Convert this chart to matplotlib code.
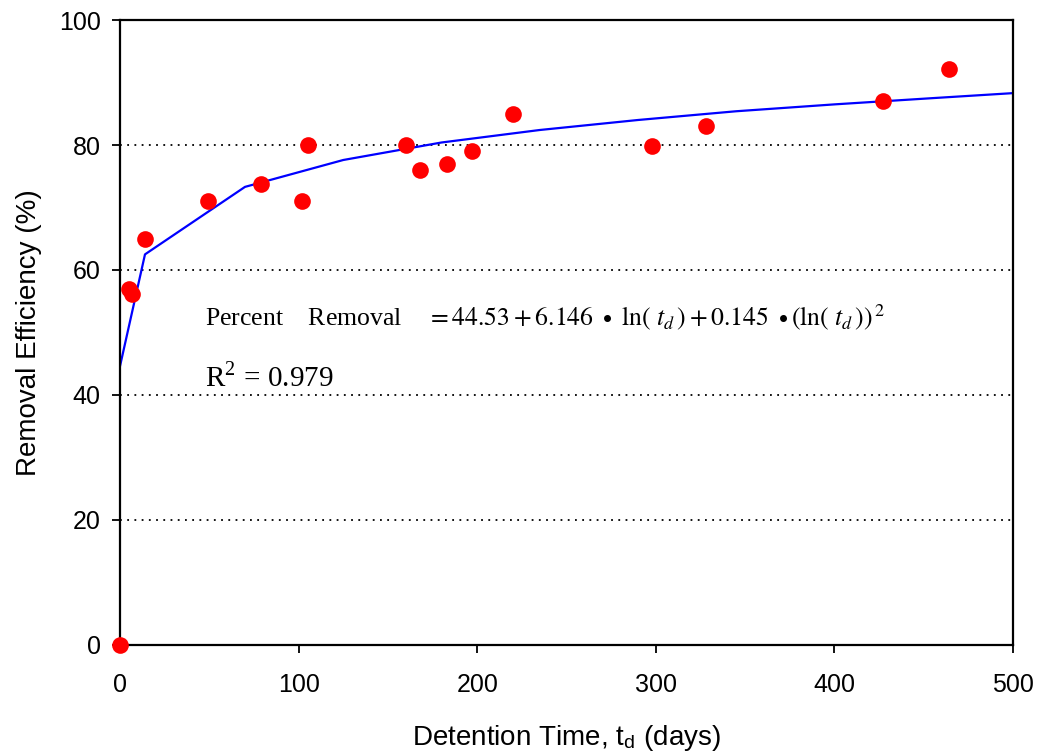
import matplotlib
matplotlib.use("Agg")
import matplotlib.pyplot as plt

plt.rcParams['font.family'] = ['Liberation Sans', 'DejaVu Sans']
plt.rcParams['mathtext.fontset'] = 'stix'

# measured data points (detention time in days, removal %)
days = [0, 5, 7, 14, 49, 79, 102, 105, 160, 168, 183, 197, 220, 298, 328, 427, 464]
removal = [0, 57, 56.2, 65, 71, 73.8, 71, 80, 80, 76, 77, 79, 85, 79.8, 83, 87, 92.2]

# fitted curve
fit_days = [0, 14, 70, 125, 180, 235, 290, 345, 400, 455, 500]
fit_removal = [44.6, 62.5, 73.3, 77.6, 80.4, 82.4, 84.0, 85.4, 86.5, 87.5, 88.3]

yticks = [0, 20, 40, 60, 80, 100]
xticks = [0, 100, 200, 300, 400, 500]

fig = plt.figure(figsize=(10.37, 7.52), dpi=100)
ax = fig.add_axes([0.1157, 0.1423, 0.8612, 0.8311])

for y in yticks[1:-1]:
    ax.axhline(y, color='black', lw=1.3, linestyle=(0, (1, 3)), zorder=1)

ax.plot(fit_days, fit_removal, color='#0000ff', lw=1.6, zorder=2)
ax.plot(days, removal, 'o', color='#ff0000', markersize=12,
        markeredgewidth=0, zorder=3, clip_on=False)

ax.set_xlim(0, 500)
ax.set_ylim(0, 100)
ax.set_xticks(xticks)
ax.set_yticks(yticks)
ax.tick_params(direction='out', length=6, width=1.3, labelsize=18)
ax.tick_params(axis='x', pad=14)
ax.tick_params(axis='y', pad=8)
for s in ax.spines.values():
    s.set_linewidth(1.6)

ax.set_xlabel('Detention Time, t$_\\mathregular{d}$ (days)', fontsize=20, labelpad=19)
ax.set_ylabel('Removal Efficiency (%)', fontsize=20, labelpad=12)

eq = (r'Percent    Removal    $= 44.53 + 6.146\ \bullet\ \mathrm{ln}(\ t_d\,) + 0.145\ \bullet'
      r'(\mathrm{ln}(\ t_d\,))^{\,2}$')
ax.text(47.6, 51.2, eq, family='Liberation Serif', fontsize=18.5, va='baseline')
ax.text(47.6, 41.2, r'R$^\mathregular{2}$ = 0.979', family='Liberation Serif',
        fontsize=21, va='baseline')

fig.savefig('out.png', dpi=100)
